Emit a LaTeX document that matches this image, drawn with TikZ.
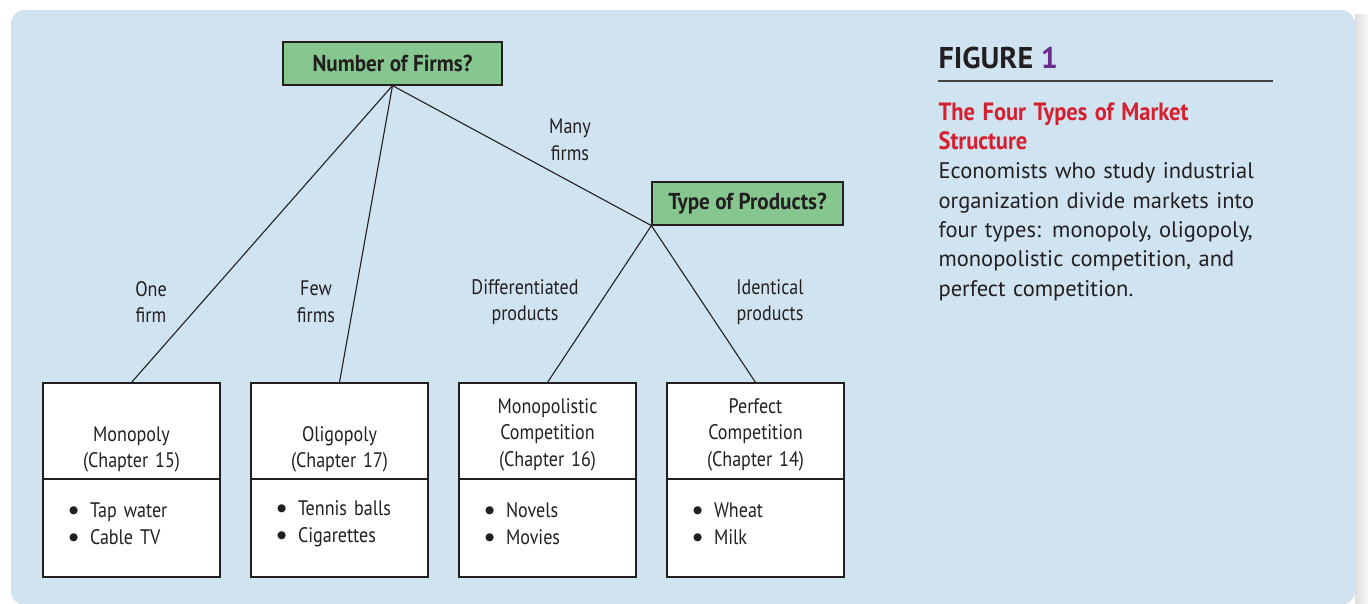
\documentclass[tikz,border=0pt]{standalone}
\usepackage{fontspec}
\setmainfont{PT Sans}
\newfontfamily\condfont[FakeStretch=0.86]{PT Sans}
\newfontfamily\headfont[FakeStretch=0.92]{PT Sans}
\newfontfamily\titlefont[FakeStretch=0.9]{PT Sans}
\newfontfamily\dotfont{DejaVu Sans}
\usetikzlibrary{positioning}
\definecolor{panelblue}{HTML}{D0E3F1}
\definecolor{boxgreen}{HTML}{86C68F}
\definecolor{titlered}{HTML}{D7202F}
\definecolor{figpurple}{HTML}{6A2C8E}
\definecolor{inkgray}{HTML}{231F20}
\newcommand{\itemdot}{\makebox[21pt][l]{\raisebox{4.2pt}{\dotfont\fontsize{10.5}{10.5}\selectfont ●}}}

\begin{document}
\begin{tikzpicture}[
  x=1pt, y=-1pt,
  line width=1.2pt,
  question/.style={rectangle, draw=inkgray, fill=boxgreen, minimum height=43pt, inner sep=0pt, text=inkgray, font=\headfont\bfseries\fontsize{23}{25}\selectfont},
  market/.style={rectangle, draw=inkgray, fill=white, minimum width=177pt, minimum height=96pt, inner sep=0pt, text width=177pt, align=center, text=inkgray, font=\condfont\fontsize{21}{26.5}\selectfont},
  examples/.style={rectangle, draw=inkgray, fill=white, minimum width=177pt, minimum height=98pt, inner xsep=26pt, inner ysep=0pt, text width=125pt, align=left, text=inkgray, font=\condfont\fontsize{21}{27}\selectfont},
  branch/.style={align=center, inner sep=0pt, text=inkgray, font=\condfont\fontsize{21}{26.5}\selectfont},
  link/.style={draw=inkgray, line width=1.1pt}
]
  \useasboundingbox (0,0) rectangle (1368,603);
  \shade[left color=black!13, right color=black!3] (1355,14) rectangle (1368,603);
  \fill[panelblue, rounded corners=14pt] (11,10) rectangle (1355,605);

  \node[question, minimum width=219pt] (firms) at (392.5,63.5) {Number of Firms?};
  \node[question, minimum width=191pt] (products) at (747.5,203.5) {Type of Products?};

  \node[market] (mono) at (131.5,431) {\rule{0pt}{25.5pt}\\Monopoly\\(Chapter 15)};
  \node[market] (oligo) at (339.5,431) {\rule{0pt}{25.5pt}\\Oligopoly\\(Chapter 17)};
  \node[market] (moncomp) at (547.5,431) {\rule{0pt}{22.5pt}Monopolistic\\Competition\\(Chapter 16)};
  \node[market] (perfect) at (755.5,431) {\rule{0pt}{22.5pt}Perfect\\Competition\\(Chapter 14)};

  \node[examples] (mono-ex) at (131.5,528) {\itemdot Tap water\\\itemdot Cable TV\par\vspace*{8pt}};
  \node[examples] (oligo-ex) at (339.5,528) {\itemdot Tennis balls\\\itemdot Cigarettes\par\vspace*{8pt}};
  \node[examples] (moncomp-ex) at (547.5,528) {\itemdot Novels\\\itemdot Movies\par\vspace*{8pt}};
  \node[examples] (perfect-ex) at (755.5,528) {\itemdot Wheat\\\itemdot Milk\par\vspace*{8pt}};

  \draw[link] (firms.south) -- (mono.north);
  \draw[link] (firms.south) -- (oligo.north);
  \draw[link] (firms.south) -- (products.south west);
  \draw[link] (products.south west) -- (moncomp.north);
  \draw[link] (products.south west) -- (perfect.north);

  \node[branch] (one) at (151,302) {One\\firm};
  \node[branch] (few) at (316,302) {Few\\firms};
  \node[branch] (many) at (570,140) {Many\\firms};
  \node[branch] (diff) at (525,302) {Differentiated\\products};
  \node[branch] (ident) at (770,302) {Identical\\products};

  \node[anchor=base west, inner sep=0pt, text=inkgray, font=\bfseries\fontsize{30}{30}\selectfont] (fig) at (938,68.3) {FIGURE \textcolor{figpurple}{1}};
  \draw[inkgray!85, line width=1.3pt] (938,81) -- (1273,81);
  \node[anchor=north west, inner sep=0pt, text width=360pt, align=left, text=inkgray, font=\fontsize{22.5}{29.3}\selectfont] (caption) at (938,102)
    {{\titlefont\bfseries\color{titlered}\fontsize{25}{29.3}\selectfont The Four Types of Market\\Structure}\\
     Economists who study industrial\\organization divide markets into\\four types: monopoly, oligopoly,\\monopolistic competition, and\\perfect competition.};
\end{tikzpicture}
\end{document}
